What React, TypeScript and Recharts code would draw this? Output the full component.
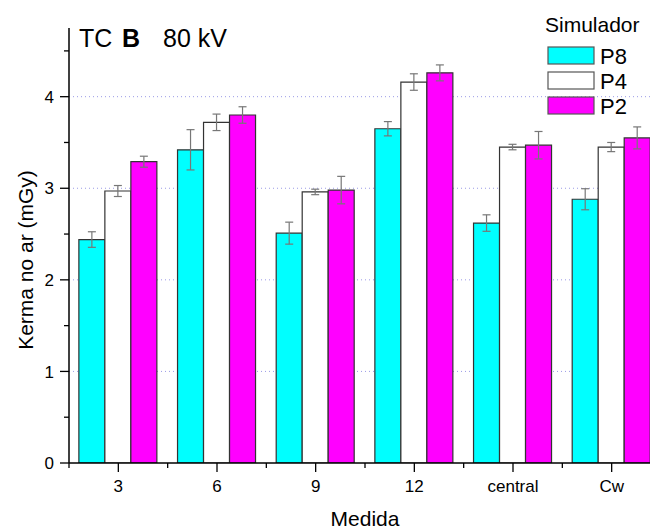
import React from 'react';
import {
  BarChart,
  Bar,
  XAxis,
  YAxis,
  CartesianGrid,
  ErrorBar,
  Legend,
  Customized,
} from 'recharts';

const categories = ['3', '6', '9', '12', 'central', 'Cw'];
const p8 = [2.44, 3.42, 2.51, 3.65, 2.62, 2.88];
const p4 = [2.97, 3.72, 2.96, 4.16, 3.45, 3.45];
const p2 = [3.29, 3.8, 2.98, 4.26, 3.47, 3.55];
const p8Err = [0.085, 0.22, 0.12, 0.078, 0.09, 0.115];
const p4Err = [0.06, 0.09, 0.03, 0.09, 0.03, 0.05];
const p2Err = [0.06, 0.09, 0.15, 0.087, 0.15, 0.12];
const yTicks = [0, 0.5, 1, 1.5, 2, 2.5, 3, 3.5, 4, 4.5];
const gridValues = [1, 2, 3, 4];
const seriesNames = ['P8', 'P4', 'P2'];
const seriesColors = ['#00FFFF', '#FFFFFF', '#FF00FF'];

const data = categories.map((c, i) => ({
  name: c,
  P8: p8[i],
  P4: p4[i],
  P2: p2[i],
  P8e: p8Err[i],
  P4e: p4Err[i],
  P2e: p2Err[i],
}));

const FONT = '"Liberation Sans", Arial, sans-serif';

const YTick = (props: any) => {
  const { x, y, payload } = props;
  const major = Number.isInteger(payload.value);
  const len = major ? 9 : 5;
  return (
    <g>
      <line x1={x - len} x2={x} y1={y} y2={y} stroke="#000" strokeWidth={1.3} />
      {major && (
        <text x={x - 15} y={y} dy="0.36em" textAnchor="end" fontSize={17} fill="#000" fontFamily={FONT}>
          {payload.value}
        </text>
      )}
    </g>
  );
};

const XTick = (props: any) => {
  const { x, y, payload, index, visibleTicksCount } = props;
  const off = payload.offset || 0;
  return (
    <g>
      <line x1={x} x2={x} y1={y} y2={y + 9} stroke="#000" strokeWidth={1.3} />
      <line x1={x - off} x2={x - off} y1={y} y2={y + 5} stroke="#000" strokeWidth={1.3} />
      {index === visibleTicksCount - 1 && (
        <line x1={x + off} x2={x + off} y1={y} y2={y + 5} stroke="#000" strokeWidth={1.3} />
      )}
      <text x={x} y={y + 29} textAnchor="middle" fontSize={17} fill="#000" fontFamily={FONT}>
        {payload.value}
      </text>
    </g>
  );
};

const LegendContent = (props: any) => {
  const payload = ([...(props.payload || [])] as any[]).sort(
    (a, b) => seriesNames.indexOf(a.value) - seriesNames.indexOf(b.value)
  );
  return (
    <svg width={110} height={120} style={{ display: 'block' }}>
      <text x={5} y={32} fontSize={21} fontFamily={FONT} fill="#000">
        Simulador
      </text>
      {payload.map((entry: any, i: number) => (
        <g key={entry.value}>
          <rect x={8} y={47 + i * 25} width={46} height={17} fill={entry.color} stroke="#555" strokeWidth={1.2} />
          <text x={60} y={64 + i * 25} fontSize={22} fontFamily={FONT} fill="#000">
            {entry.value}
          </text>
        </g>
      ))}
    </svg>
  );
};

const Title = () => (
  <text y={47} fontSize={25} fontFamily={FONT} fill="#000">
    <tspan x={79}>TC</tspan>
    <tspan x={122} fontWeight="bold">B</tspan>
    <tspan x={163}>80 kV</tspan>
  </text>
);

const AxisTitles = () => (
  <g fontFamily={FONT} fill="#000">
    <text x={365} y={526} textAnchor="middle" fontSize={21}>
      Medida
    </text>
    <text x={33} y={260} textAnchor="middle" fontSize={21} transform="rotate(-90, 33, 260)">
      Kerma no ar (mGy)
    </text>
  </g>
);

export default function App() {
  return (
    <div
      style={{
        position: 'fixed',
        left: 0,
        top: 0,
        width: 650,
        height: 529,
        overflow: 'hidden',
        background: '#fff',
      }}
    >
      <BarChart
        width={680}
        height={529}
        data={data}
        margin={{ top: 28, right: 19, left: 0, bottom: 0 }}
        barCategoryGap="10%"
        barGap={0}
        style={{ fontFamily: FONT }}
      >
        <CartesianGrid
          vertical={false}
          horizontalValues={gridValues}
          stroke="#9a9ae6"
          strokeDasharray="1 3"
          strokeWidth={1}
        />
        <XAxis
          dataKey="name"
          height={66}
          axisLine={{ stroke: '#000', strokeWidth: 1.5 }}
          tickLine={false}
          tickSize={0}
          tickMargin={0}
          interval={0}
          tick={<XTick />}
        />
        <YAxis
          width={69}
          domain={[0, 4.75]}
          ticks={yTicks}
          interval={0}
          allowDataOverflow
          axisLine={{ stroke: '#000', strokeWidth: 1.5 }}
          tickLine={false}
          tickSize={0}
          tickMargin={0}
          tick={<YTick />}
        />
        <Legend
          layout="vertical"
          align="center"
          verticalAlign="middle"
          wrapperStyle={{ position: 'absolute', left: 540, top: 0, width: 110, height: 120 }}
          content={<LegendContent />}
        />
        {seriesNames.map((s, i) => (
          <Bar
            key={s}
            dataKey={s}
            name={s}
            fill={seriesColors[i]}
            stroke="#333"
            strokeWidth={1.2}
            isAnimationActive={false}
          >
            <ErrorBar dataKey={s + 'e'} width={4} stroke="#777" strokeWidth={1.2} direction="y" />
          </Bar>
        ))}
        <Customized component={Title} />
        <Customized component={AxisTitles} />
      </BarChart>
    </div>
  );
}
